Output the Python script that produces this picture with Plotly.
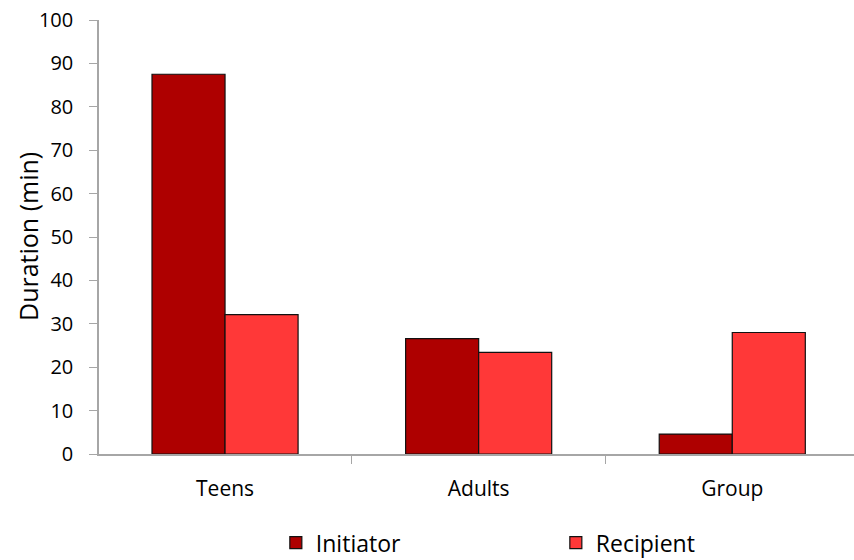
import plotly.graph_objects as go

# Duration of interactions by group and role
groups = ["Teens", "Adults", "Group"]
initiator = [87.5, 26.6, 4.6]
recipient = [32.1, 23.4, 28.0]
y_ticks = [0, 10, 20, 30, 40, 50, 60, 70, 80, 90, 100]

FONT = "'Open Sans', sans-serif"
W, H = 854, 560
M_LEFT = 99

fig = go.Figure()
fig.add_trace(go.Bar(
    name="Initiator", x=groups, y=initiator,
    marker=dict(color="#AE0000", line=dict(color="#111111", width=1.2)),
))
fig.add_trace(go.Bar(
    name="Recipient", x=groups, y=recipient,
    marker=dict(color="#FF3838", line=dict(color="#111111", width=1.2)),
))

fig.update_layout(
    width=W, height=H,
    margin=dict(l=M_LEFT, r=0, t=20, b=106),
    paper_bgcolor="white", plot_bgcolor="white",
    barmode="group", bargap=0.424, bargroupgap=0,
    font=dict(family=FONT, color="#000000", size=20),
    showlegend=True,
    legend=dict(
        orientation="h", xref="container", yref="container",
        x=0.323, xanchor="left", y=0.031, yanchor="middle",
        font=dict(size=23, family=FONT),
        entrywidth=235, entrywidthmode="pixels",
        itemwidth=30, traceorder="normal",
    ),
)

# y-axis title as a rotated annotation, placed close to the tick labels
plot_w = W - M_LEFT
fig.add_annotation(
    text="Duration (min)", textangle=-90,
    xref="paper", yref="paper", x=(28 - M_LEFT) / plot_w, y=0.5,
    xanchor="center", yanchor="middle", showarrow=False,
    font=dict(size=25, family=FONT, color="#000000"),
)

fig.update_xaxes(
    type="category", range=[-0.497, 2.48],
    showline=True, linecolor="#A6A6A6", linewidth=1.5,
    ticks="outside", tickson="boundaries", ticklen=8, tickcolor="#A6A6A6",
    showgrid=False, zeroline=False,
    tickfont=dict(size=21, family=FONT),
    ticklabelstandoff=15,
)
fig.update_yaxes(
    range=[0, 100], tickvals=y_ticks,
    showline=True, linecolor="#A6A6A6", linewidth=1.5,
    ticks="outside", ticklen=8, tickcolor="#A6A6A6",
    showgrid=False, zeroline=False,
    tickfont=dict(size=20, family=FONT),
    ticklabelstandoff=12,
)

fig.write_html("out.html")
